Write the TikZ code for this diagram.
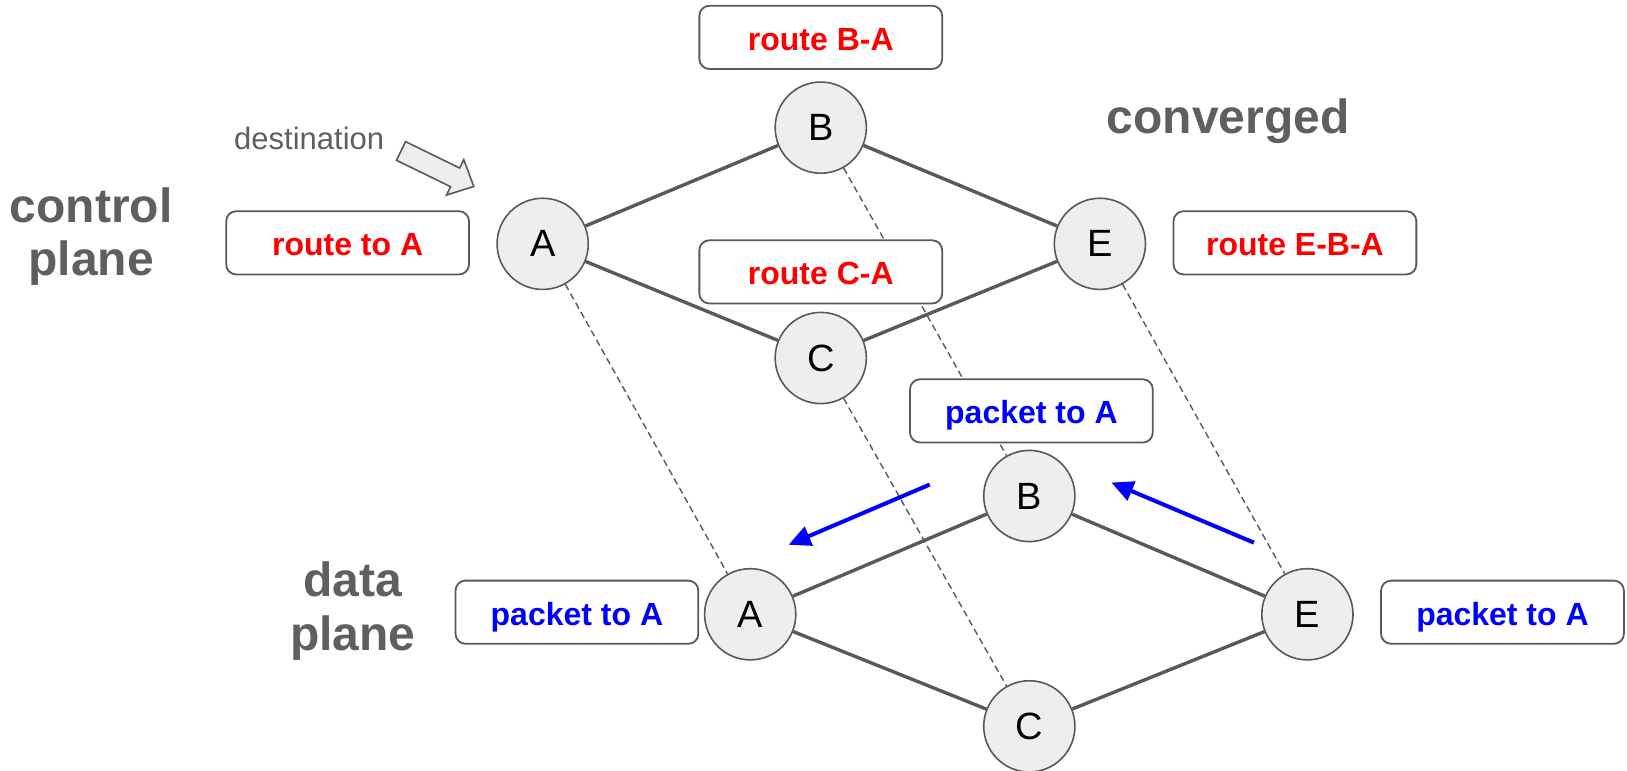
\documentclass[tikz,border=0pt]{standalone}
\usepackage{fontspec}
\setmainfont{Liberation Sans}
\usetikzlibrary{arrows.meta}
\definecolor{linegray}{HTML}{595959}
\definecolor{labelgray}{HTML}{5F5F5F}
\definecolor{routerfill}{HTML}{EEEEEE}
\definecolor{routered}{HTML}{FF0000}
\definecolor{pktblue}{HTML}{0000FF}
\tikzset{
  router/.style={circle, draw=linegray, line width=0.8pt, fill=routerfill, minimum size=45.6pt, inner sep=0pt, font=\fontsize{19}{22}\selectfont},
  tbl/.style={draw=linegray, line width=0.9pt, rounded corners=5pt, fill=white, minimum width=121.4pt, minimum height=31.6pt, inner sep=0pt, text height=12.8pt, text depth=0pt, font=\fontsize{16}{18}\selectfont\bfseries},
  rib/.style={tbl, text=routered},
  fib/.style={tbl, text=pktblue},
  planelabel/.style={align=center, text=labelgray, font=\fontsize{24}{26.7}\selectfont\bfseries},
  link/.style={draw=linegray, line width=1.7pt},
  vmap/.style={draw=linegray, line width=0.7pt, dash pattern=on 3.3pt off 2pt},
  fwd/.style={-{Triangle[length=11pt,width=10pt]}, pktblue, line width=2pt}
}
\begin{document}
\begin{tikzpicture}[x=0.5188pt, y=-0.5188pt]
  \useasboundingbox (0,0) rectangle (1568,743);

  % control plane
  \node[router] (cA) at (523,235) {A};
  \node[router] (cB) at (791,123) {B};
  \node[router] (cC) at (791,345) {C};
  \node[router] (cE) at (1060,235) {E};
  % data plane
  \node[router] (dA) at (723,592) {A};
  \node[router] (dB) at (992,478) {B};
  \node[router] (dC) at (992,700) {C};
  \node[router] (dE) at (1260,592) {E};

  \draw[link] (cA) -- (cB) (cA) -- (cC) (cB) -- (cE) (cC) -- (cE);
  \draw[link] (dA) -- (dB) (dA) -- (dC) (dB) -- (dE) (dC) -- (dE);
  \foreach \r in {A,B,C,E}
    \draw[vmap] (c\r) -- (d\r);

  % tables
  \node[rib] (ribB) at (791,36) {route B-A};
  \node[rib] (ribA) at (335,234) {route to A};
  \node[rib] (ribC) at (791,262) {route C-A};
  \node[rib] (ribE) at (1248,234) {route E-B-A};
  \node[fib] (fibB) at (994,396) {packet to A};
  \node[fib] (fibA) at (556,590) {packet to A};
  \node[fib] (fibE) at (1448,590) {packet to A};

  \node[planelabel] (cplane) at (88,228) {control\\plane};
  \node[planelabel] (dplane) at (340,589) {data\\plane};
  \node[planelabel, anchor=base] (conv) at (1183.5,128.5) {converged};
  \node[anchor=base, text=labelgray, font=\fontsize{15.5}{18}\selectfont] (dest) at (298,144) {destination};

  \begin{scope}[shift={(386.5,145.5)}, rotate=-26]
    \filldraw[fill=routerfill, draw=linegray, line width=0.8pt]
      (0,10) -- (58,10) -- (58,19) -- (78,0) -- (58,-19) -- (58,-10) -- (0,-10) -- cycle;
  \end{scope}

  % forwarding
  \coordinate (f1s) at (896,467);
  \coordinate (f1e) at (760,525);
  \coordinate (f2s) at (1208.5,523);
  \coordinate (f2e) at (1071,465);
  \draw[fwd] (f1s) -- (f1e);
  \draw[fwd] (f2s) -- (f2e);
\end{tikzpicture}
\end{document}
